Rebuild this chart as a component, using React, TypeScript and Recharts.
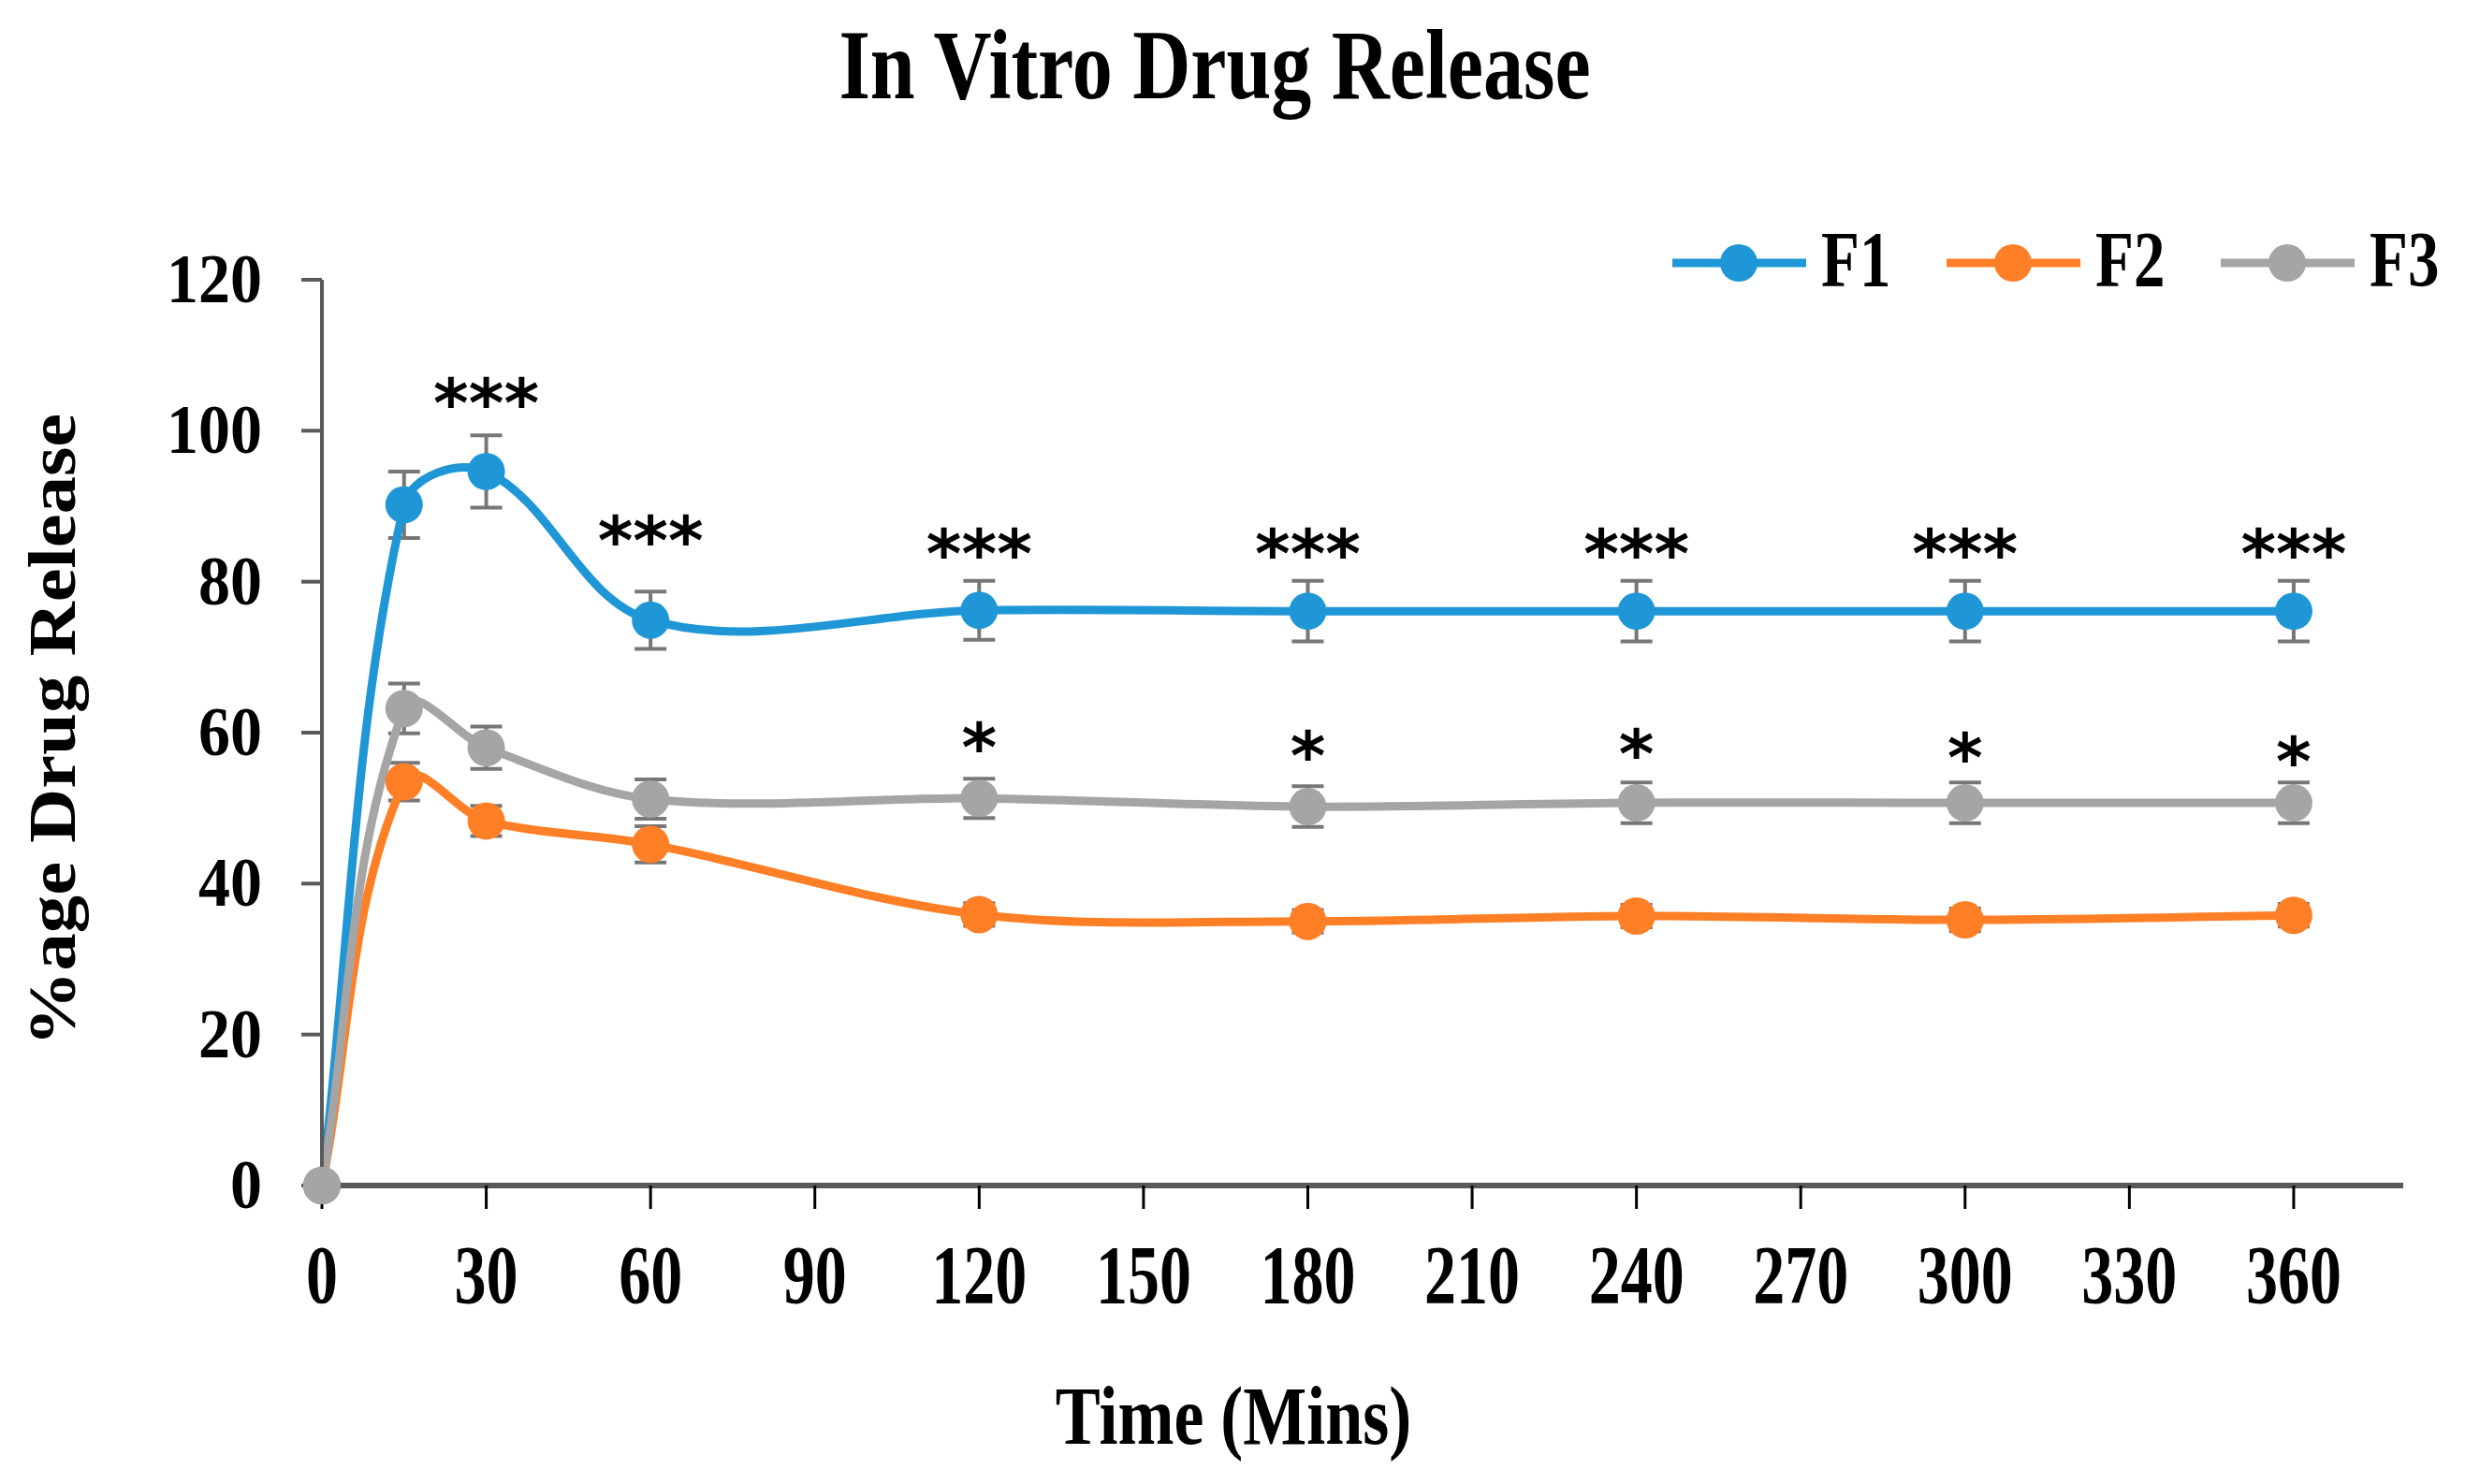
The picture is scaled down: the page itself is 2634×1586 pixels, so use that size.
import React from 'react';
import { LineChart, Line, XAxis, YAxis, ErrorBar, LabelList, Customized } from 'recharts';

// ---------- data ----------
const times = [0, 15, 30, 60, 120, 180, 240, 300, 360];
const f1Values = [0, 90.2, 94.6, 74.9, 76.2, 76.1, 76.1, 76.1, 76.1];
const f1Errors = [0, 4.4, 4.8, 3.8, 3.9, 4, 4, 4, 4];
const f2Values = [0, 53.5, 48.3, 45.2, 35.9, 35.0, 35.7, 35.2, 35.8];
const f2Errors = [0, 2.5, 2, 2.4, 1.5, 1.5, 1.5, 1.5, 1.5];
const f3Values = [0, 63.2, 58.0, 51.2, 51.3, 50.2, 50.7, 50.7, 50.7];
const f3Errors = [0, 3.3, 2.8, 2.6, 2.6, 2.7, 2.7, 2.7, 2.7];
const sigF1 = ['', '', '***', '***', '***', '***', '***', '***', '***'];
const sigF1Level = [null, null, 105.2, 87, 85.3, 85.3, 85.3, 85.3, 85.3];
const sigF3 = ['', '', '', '', '*', '*', '*', '*', '*'];
const sigF3Level = [null, null, null, null, 59.6, 58.5, 58.8, 58.3, 57.8];
const xTicks = [0, 30, 60, 90, 120, 150, 180, 210, 240, 270, 300, 330, 360];
const yTicks = [0, 20, 40, 60, 80, 100, 120];
const seriesNames = ['F1', 'F2', 'F3'];

const COLORS = ['#1F97D6', '#FF7F27', '#A5A5A5'];
const ERR_COLOR = '#777777';
const AXIS_COLOR = '#595959';
const SERIF = "'Liberation Serif', 'Times New Roman', serif";

const data = times.map((t, i) => ({
  time: t,
  F1: f1Values[i],
  F1e: f1Errors[i],
  F2: f2Values[i],
  F2e: f2Errors[i],
  F3: f3Values[i],
  F3e: f3Errors[i],
  s1: sigF1[i],
  s1y: sigF1Level[i],
  s3: sigF3[i],
  s3y: sigF3Level[i],
}));

// Excel-like smoothed line: tangent direction from neighbours, length from segment
function excelCurve(context: any) {
  let pts: number[][] = [];
  const norm = (a: number[], b: number[]) => {
    const dx = b[0] - a[0];
    const dy = b[1] - a[1];
    const l = Math.hypot(dx, dy) || 1;
    return [dx / l, dy / l];
  };
  return {
    areaStart() {},
    areaEnd() {},
    lineStart() {
      pts = [];
    },
    lineEnd() {
      if (!pts.length) return;
      context.moveTo(pts[0][0], pts[0][1]);
      const k = 1 / 3;
      for (let i = 0; i < pts.length - 1; i++) {
        const p0 = pts[i - 1] || pts[i];
        const p1 = pts[i];
        const p2 = pts[i + 1];
        const p3 = pts[i + 2] || p2;
        const L = Math.hypot(p2[0] - p1[0], p2[1] - p1[1]);
        const d1 = norm(p0, p2);
        const d2 = norm(p1, p3);
        const c1x = p1[0] + d1[0] * L * k;
        const c1y = p1[1] + d1[1] * L * k;
        const c2x = p2[0] - d2[0] * L * k;
        const c2y = p2[1] - d2[1] * L * k;
        context.bezierCurveTo(c1x, c1y, c2x, c2y, p2[0], p2[1]);
      }
    },
    point(x: number, y: number) {
      pts.push([+x, +y]);
    },
  };
}

function StretchText(props: any) {
  const { x, y, size, sx = 1, sy = 1, rotate = 0, anchor = 'middle', family = SERIF, weight = 'bold', children } = props;
  return (
    <text
      transform={`translate(${x},${y}) rotate(${rotate}) scale(${sx},${sy})`}
      x={0}
      y={0}
      fontSize={size}
      fontFamily={family}
      fontWeight={weight}
      textAnchor={anchor}
      fill="#000"
    >
      {children}
    </text>
  );
}

const XTick = (props: any) => {
  const { x, y, payload } = props;
  return (
    <StretchText x={x} y={y + 100} size={68} sy={1.3}>
      {payload.value}
    </StretchText>
  );
};

const YTick = (props: any) => {
  const { x, y, payload } = props;
  return (
    <StretchText x={x} y={y + 24} size={68} sy={1.09} anchor="end">
      {payload.value}
    </StretchText>
  );
};

const renderStar = (props: any) => {
  const { x, y, value } = props;
  if (!value || y == null || isNaN(y)) return null;
  return (
    <text
      x={x}
      y={y + 38}
      textAnchor="middle"
      fontSize={72}
      fontWeight="bold"
      fontFamily="'DejaVu Sans', sans-serif"
      fill="#000"
    >
      {value}
    </text>
  );
};

const Overlay = () => {
  const legendX = [1787, 2080, 2373];
  return (
    <g>
      <StretchText x={1298} y={105} size={86} sy={1.23}>
        In Vitro Drug Release
      </StretchText>
      <StretchText x={80} y={780} size={72} sx={1.12} rotate={-90}>
        %age Drug Release
      </StretchText>
      <StretchText x={1318} y={1543} size={72} sy={1.22}>
        Time (Mins)
      </StretchText>
      {seriesNames.map((name, i) => (
        <g key={name}>
          <line x1={legendX[i]} x2={legendX[i] + 143} y1={281} y2={281} stroke={COLORS[i]} strokeWidth={9} />
          <circle cx={legendX[i] + 71} cy={281} r={20} fill={COLORS[i]} />
          <StretchText x={legendX[i] + 159} y={306} size={67} sy={1.26} anchor="start">
            {name}
          </StretchText>
        </g>
      ))}
    </g>
  );
};

export default function App() {
  return (
    <div style={{ position: 'absolute', left: 0, top: 0, width: 2634, height: 1586, background: '#fff' }}>
      <LineChart width={2634} height={1586} data={data} margin={{ top: 299, right: 66, bottom: 0, left: 0 }}>
        <XAxis
          dataKey="time"
          type="number"
          domain={[0, 380]}
          ticks={xTicks}
          interval={0}
          height={319}
          axisLine={{ stroke: AXIS_COLOR, strokeWidth: 6 }}
          tickLine={{ stroke: '#000', strokeWidth: 3 }}
          tickSize={25}
          tickMargin={0}
          tick={<XTick />}
        />
        <YAxis
          type="number"
          domain={[0, 120]}
          ticks={yTicks}
          interval={0}
          width={344}
          axisLine={{ stroke: AXIS_COLOR, strokeWidth: 4 }}
          tickLine={{ stroke: AXIS_COLOR, strokeWidth: 4 }}
          tickSize={22}
          tickMargin={42}
          tick={<YTick />}
        />
        {seriesNames.map((name, i) => (
          <Line
            key={name}
            dataKey={name}
            type={excelCurve as any}
            stroke={COLORS[i]}
            strokeWidth={9}
            dot={{ r: 20, fill: COLORS[i], stroke: COLORS[i], strokeWidth: 0 }}
            activeDot={false}
            isAnimationActive={false}
          >
            <ErrorBar dataKey={`${name}e`} direction="y" width={17} stroke={ERR_COLOR} strokeWidth={4} />
          </Line>
        ))}
        <Line dataKey="s1y" stroke="none" dot={false} activeDot={false} legendType="none" isAnimationActive={false}>
          <LabelList dataKey="s1" content={renderStar} />
        </Line>
        <Line dataKey="s3y" stroke="none" dot={false} activeDot={false} legendType="none" isAnimationActive={false}>
          <LabelList dataKey="s3" content={renderStar} />
        </Line>
        <Customized component={Overlay} />
      </LineChart>
    </div>
  );
}
